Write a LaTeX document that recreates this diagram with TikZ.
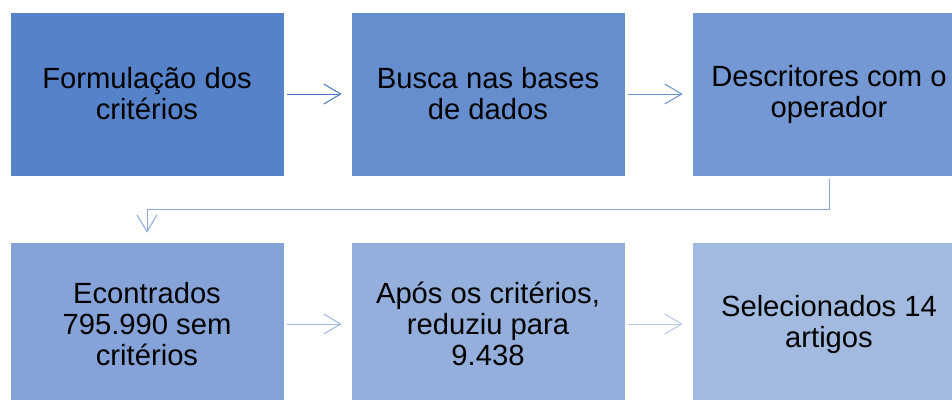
\documentclass[tikz,border=0pt]{standalone}
\usepackage{fontspec}
\setmainfont{Liberation Sans}
\usetikzlibrary{arrows.meta}
\definecolor{boxA}{HTML}{5582C9}
\definecolor{boxB}{HTML}{668ECF}
\definecolor{boxC}{HTML}{7498D3}
\definecolor{boxD}{HTML}{85A3D8}
\definecolor{boxE}{HTML}{94AFDC}
\definecolor{boxF}{HTML}{A3BAE0}
\definecolor{arrA}{HTML}{4A77C6}
\definecolor{arrB}{HTML}{6A90D0}
\definecolor{arrC}{HTML}{8CA8DA}
\definecolor{arrD}{HTML}{A0B6DF}
\definecolor{arrE}{HTML}{B6C8E7}
\tikzset{
  stepbox/.style={shape=rectangle, draw=white, line width=0.6pt, minimum width=274pt,
    minimum height=164pt, inner sep=0pt, align=center, text=black,
    font=\fontsize{29.2}{31}\selectfont},
  flow/.style={line width=1pt, -{Straight Barb[length=17pt,width=20pt]},
    shorten <=3pt, shorten >=9pt}
}
\begin{document}
\begin{tikzpicture}[x=1pt,y=-1pt]
        \useasboundingbox (0,0) rectangle (952,399);
        \node[stepbox,fill=boxA] (F) at (147, 94) {Formulação dos\\critérios};
        \node[stepbox,fill=boxB] (B) at (488, 94) {Busca nas bases\\de dados};
        \node[stepbox,fill=boxC] (D) at (829, 94) {Descritores com o\\operador};
        \node[stepbox,fill=boxD] (E) at (147, 324) {Econtrados\\795.990 sem\\critérios};
        \node[stepbox,fill=boxE] (R) at (488, 324) {Após os critérios,\\reduziu para\\9.438};
        \node[stepbox,fill=boxF] (S) at (829, 324) {Selecionados 14\\artigos};
        \draw[flow,arrA] (F) -- (B);
        \draw[flow,arrB] (B) -- (D);
        \draw[flow,arrC] (D.south) -- ++(0,33) -| (E.north);
        \draw[flow,arrD] (E) -- (R);
        \draw[flow,arrE] (R) -- (S);
    \end{tikzpicture}
\end{document}
